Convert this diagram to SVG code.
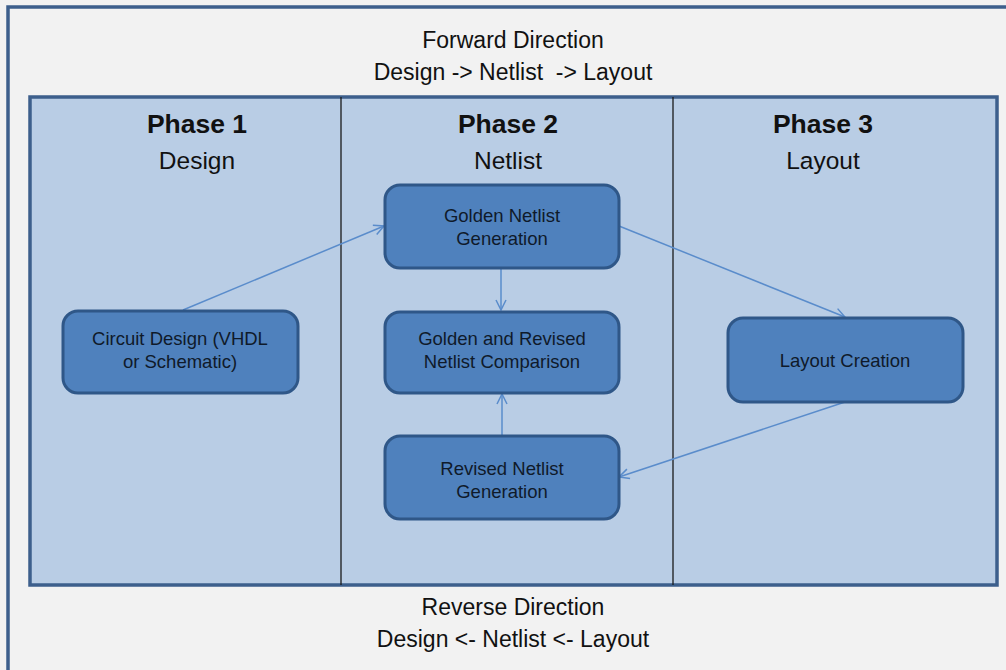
<svg xmlns="http://www.w3.org/2000/svg" width="1006" height="670" viewBox="0 0 1006 670">
<defs>
<style>
.bg{fill:#f2f2f2}
.frame{fill:#f2f2f2;stroke:#3d5f8c;stroke-width:3.5}
.panel{fill:#b9cde5;stroke:#3d5f8c;stroke-width:3.5}
.div{stroke:#1a1a1a;stroke-width:1.3}
.node{fill:#4f81bd;stroke:#2f5788;stroke-width:3}
.t{font-family:"Liberation Sans",Arial,sans-serif;fill:#111;text-anchor:middle}
.hdr{font-size:23px}
.ph{font-size:26.5px;font-weight:bold}
.sub{font-size:24.5px}
.nt{font-size:18.5px;fill:#0f1a2a}
.conn{stroke:#5a8ccb;stroke-width:1.5;fill:none;marker-end:url(#arr)}
</style>
<marker id="arr" viewBox="0 0 12 12" refX="11" refY="6" markerWidth="12" markerHeight="12" markerUnits="userSpaceOnUse" orient="auto">
<path d="M1,1 L11,6 L1,11" fill="none" stroke="#5a8ccb" stroke-width="1.5"/>
</marker>
</defs>
<rect class="bg" x="0" y="0" width="1006" height="670"/>
<rect class="frame" x="8" y="7" width="1010" height="680"/>
<g id="headers">
<text class="t hdr" x="513" y="48">Forward Direction</text>
<text class="t hdr" x="513" y="80" xml:space="preserve">Design -&gt; Netlist  -&gt; Layout</text>
<text class="t hdr" x="513" y="615">Reverse Direction</text>
<text class="t hdr" x="513" y="647">Design &lt;- Netlist &lt;- Layout</text>
</g>
<g id="panel">
<rect class="panel" x="30" y="97" width="967" height="488"/>
<line class="div" x1="341" y1="97" x2="341" y2="585"/>
<line class="div" x1="673" y1="97" x2="673" y2="585"/>
</g>
<g id="phase1">
<text class="t ph" x="197" y="133">Phase 1</text>
<text class="t sub" x="197" y="169">Design</text>
</g>
<g id="phase2">
<text class="t ph" x="508" y="133">Phase 2</text>
<text class="t sub" x="508" y="169">Netlist</text>
</g>
<g id="phase3">
<text class="t ph" x="823" y="133">Phase 3</text>
<text class="t sub" x="823" y="169">Layout</text>
</g>
<g id="connectors">
<line class="conn" x1="183" y1="310" x2="384" y2="226"/>
<line class="conn" x1="501" y1="268" x2="501" y2="310"/>
<line class="conn" x1="619" y1="226" x2="845" y2="317"/>
<line class="conn" x1="845" y1="402" x2="619" y2="477"/>
<line class="conn" x1="502" y1="436" x2="502" y2="394"/>
</g>
<g id="circuit-design">
<rect class="node" x="63" y="311" width="235" height="82" rx="15"/>
<text class="t nt" x="180" y="345">Circuit Design (VHDL</text>
<text class="t nt" x="180" y="368">or Schematic)</text>
</g>
<g id="golden-netlist">
<rect class="node" x="385" y="185" width="234" height="83" rx="15"/>
<text class="t nt" x="502" y="222">Golden Netlist</text>
<text class="t nt" x="502" y="245">Generation</text>
</g>
<g id="comparison">
<rect class="node" x="385" y="312" width="234" height="81" rx="15"/>
<text class="t nt" x="502" y="345">Golden and Revised</text>
<text class="t nt" x="502" y="368">Netlist Comparison</text>
</g>
<g id="revised-netlist">
<rect class="node" x="385" y="436" width="234" height="83" rx="15"/>
<text class="t nt" x="502" y="475">Revised Netlist</text>
<text class="t nt" x="502" y="498">Generation</text>
</g>
<g id="layout-creation">
<rect class="node" x="728" y="318" width="235" height="84" rx="15"/>
<text class="t nt" x="845" y="367">Layout Creation</text>
</g>
</svg>
